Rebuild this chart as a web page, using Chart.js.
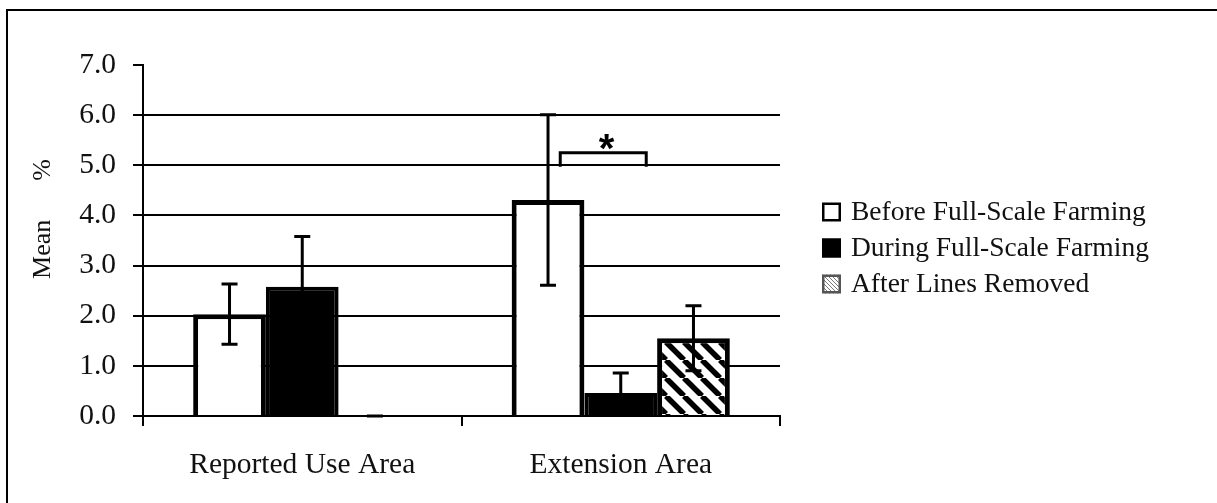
<!DOCTYPE html>
<html>
<head>
<meta charset="utf-8">
<script src="https://cdn.jsdelivr.net/npm/chart.js@4/dist/chart.umd.min.js"></script>
<style>
  html, body { margin: 0; padding: 0; background: #fff; }
  #wrap { position: relative; width: 1217px; height: 503px; }
  #frame { position: absolute; left: 6px; top: 9px; right: 0; bottom: 0;
           border-left: 2px solid #000; border-top: 2px solid #000; pointer-events: none; }
  canvas { display: block; }
</style>
</head>
<body>
<div id="wrap">
  <canvas id="chart" width="1217" height="503"></canvas>
  <div id="frame"></div>
</div>
<script>
// ── data ──────────────────────────────────────────────────────────────────────
const categories  = ['Reported Use Area', 'Extension Area'];
const seriesNames = ['Before Full-Scale Farming', 'During Full-Scale Farming', 'After Lines Removed'];
const beforeVals  = [2.03, 4.31];
const beforeErr   = [0.60, 1.70];
const duringVals  = [2.58, 0.46];
const duringErr   = [1.00, 0.40];
const afterVals   = [0, 1.55];
const afterErr    = [0, 0.65];
const yTickLabels = ['0.0', '1.0', '2.0', '3.0', '4.0', '5.0', '6.0', '7.0'];
const yTitle      = 'Mean      %';

// significance bracket between before/during in Extension Area (category units / y values)
const sigBracket  = { x0: 0.81, x1: 1.08, yLow: 4.97, yHigh: 5.25, starX: 0.955, starY: 5.46, label: '*' };

const SERIF = "'Liberation Serif', 'Times New Roman', serif";
const INK   = '#111';

function hatchPattern(size, width, color) {
  const c = document.createElement('canvas');
  c.width = c.height = size;
  const g = c.getContext('2d');
  g.fillStyle = '#fff';
  g.fillRect(0, 0, size, size);
  g.strokeStyle = color;
  g.lineWidth = width;
  for (const k of [-size, 0, size]) {
    g.beginPath();
    g.moveTo(k, 0);
    g.lineTo(k + size, size);
    g.stroke();
  }
  return g.createPattern(c, 'repeat');
}

const ctx = document.getElementById('chart').getContext('2d');
const bigHatch   = hatchPattern(18, 5.5, '#000');
const smallHatch = hatchPattern(4, 1, '#777');

// error bars, drawn from each bar element's x and the y scale
const errorBars = {
  id: 'errorBars',
  afterDatasetsDraw(chart) {
    const c = chart.ctx, y = chart.scales.y;
    c.save();
    c.strokeStyle = '#000';
    c.lineWidth = 3;
    chart.data.datasets.forEach((ds, di) => {
      chart.getDatasetMeta(di).data.forEach((bar, i) => {
        const v = ds.data[i], e = ds.err[i];
        const top = y.getPixelForValue(v + e), bot = y.getPixelForValue(Math.max(0, v - e));
        const x = bar.x, half = 8;
        c.beginPath();
        c.moveTo(x, top); c.lineTo(x, bot);
        c.moveTo(x - half, top); c.lineTo(x + half, top);
        c.moveTo(x - half, bot); c.lineTo(x + half, bot);
        c.stroke();
      });
    });
    c.restore();
  }
};

// bracket + asterisk, y-axis title, legend
const extras = {
  id: 'extras',
  afterDraw(chart) {
    const c = chart.ctx, xs = chart.scales.x, ys = chart.scales.y, area = chart.chartArea;
    c.save();

    // significance bracket
    const bx0 = xs.getPixelForValue(sigBracket.x0), bx1 = xs.getPixelForValue(sigBracket.x1);
    const byL = ys.getPixelForValue(sigBracket.yLow), byH = ys.getPixelForValue(sigBracket.yHigh);
    c.strokeStyle = '#000';
    c.lineWidth = 3;
    c.beginPath();
    c.moveTo(bx0, byL); c.lineTo(bx0, byH); c.lineTo(bx1, byH); c.lineTo(bx1, byL);
    c.stroke();
    c.fillStyle = '#000';
    c.font = "bold 40px 'Liberation Sans', Arial, sans-serif";
    c.textAlign = 'center';
    c.textBaseline = 'alphabetic';
    const m = c.measureText(sigBracket.label);
    const sx = xs.getPixelForValue(sigBracket.starX), sy = ys.getPixelForValue(sigBracket.starY);
    c.fillText(sigBracket.label, sx, sy + (m.actualBoundingBoxAscent - m.actualBoundingBoxDescent) / 2);

    // y-axis title
    c.save();
    c.translate(area.left - 100, area.top + 154);
    c.rotate(-Math.PI / 2);
    c.font = `26px ${SERIF}`;
    c.fillStyle = INK;
    c.textAlign = 'center';
    c.textBaseline = 'middle';
    c.fillText(yTitle, 0, 0);
    c.restore();

    // legend
    const lx = area.right + 42, ly = area.top + 147, step = 36, box = 19;
    c.font = `27.5px ${SERIF}`;
    c.textAlign = 'left';
    c.textBaseline = 'middle';
    chart.data.datasets.forEach((ds, i) => {
      const cy = ly + i * step;
      c.fillStyle = ds.legendFill;
      c.fillRect(lx, cy - box / 2, box, box);
      c.strokeStyle = ds.legendBorder;
      c.lineWidth = 2.5;
      c.strokeRect(lx + 1.25, cy - box / 2 + 1.25, box - 2.5, box - 2.5);
      c.fillStyle = INK;
      c.fillText(ds.label, lx + 29, cy + 1);
    });

    c.restore();
  }
};

new Chart(ctx, {
  type: 'bar',
  data: {
    labels: categories,
    datasets: [
      { label: seriesNames[0], data: beforeVals, err: beforeErr,
        backgroundColor: '#fff', borderColor: '#000', borderWidth: 5,
        legendFill: '#fff', legendBorder: '#000' },
      { label: seriesNames[1], data: duringVals, err: duringErr,
        backgroundColor: '#000', borderColor: '#000', borderWidth: 4,
        legendFill: '#000', legendBorder: '#000' },
      { label: seriesNames[2], data: afterVals, err: afterErr,
        backgroundColor: bigHatch, borderColor: '#000', borderWidth: 5,
        legendFill: smallHatch, legendBorder: '#555' },
    ],
  },
  options: {
    responsive: false,
    animation: false,
    devicePixelRatio: 1,
    layout: { padding: { top: 65, right: 437, bottom: 0, left: 0 } },
    datasets: { bar: { categoryPercentage: 0.685, barPercentage: 1 } },
    plugins: {
      legend:  { display: false },
      tooltip: { enabled: false },
    },
    scales: {
      x: {
        grid:   { drawOnChartArea: false, drawTicks: true, tickLength: 10, color: '#000', lineWidth: 2, offset: true },
        border: { color: '#000', width: 2 },
        ticks:  { color: INK, font: { family: SERIF, size: 29.5 }, padding: 22 },
        afterFit: s => { s.height = 87; },
      },
      y: {
        min: 0,
        max: 7,
        grid: {
          color: c => (c.tick && c.tick.value === 7 ? 'rgba(0,0,0,0)' : '#000'),
          lineWidth: 2,
          tickLength: 10,
          tickColor: '#000',
          tickWidth: 2,
        },
        border: { color: '#000', width: 2 },
        ticks: {
          stepSize: 1,
          color: INK,
          font: { family: SERIF, size: 29.5 },
          padding: 17,
          callback: (v, i) => yTickLabels[i],
        },
        afterFit: s => { s.width = 143; },
      },
    },
  },
  plugins: [errorBars, extras],
});
</script>
</body>
</html>
